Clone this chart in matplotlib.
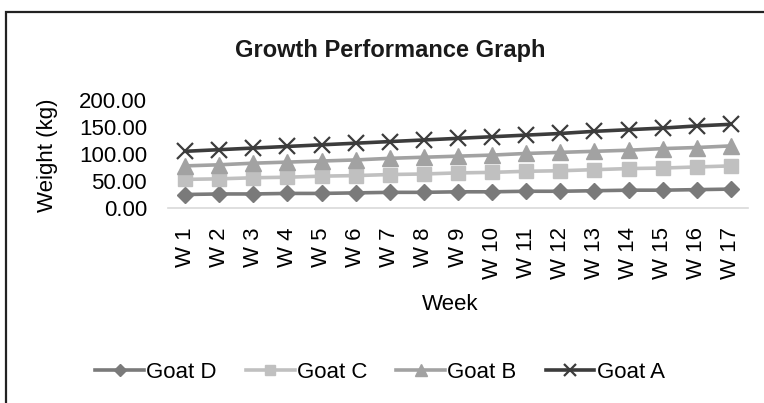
import matplotlib.pyplot as plt
from matplotlib.patches import Rectangle

plt.rcParams['font.family'] = ['Liberation Sans', 'DejaVu Sans']

# Data (weight in kg per week)
weeks = ['W 1', 'W 2', 'W 3', 'W 4', 'W 5', 'W 6', 'W 7', 'W 8', 'W 9',
         'W 10', 'W 11', 'W 12', 'W 13', 'W 14', 'W 15', 'W 16', 'W 17']
goat_a = [105, 108, 111, 114, 117, 120, 123, 126, 129, 132, 135, 138, 142, 145, 148, 152, 155]
goat_b = [78, 80, 83, 85, 87, 89, 92, 94, 96, 98, 101, 103, 105, 107, 110, 112, 115]
goat_c = [53, 54, 56, 57, 59, 60, 62, 63, 65, 66, 68, 69, 71, 73, 74, 76, 78]
goat_d = [25, 26, 26, 27, 27, 28, 29, 29, 30, 30, 31, 31, 32, 33, 33, 34, 35]
y_ticks = [0, 50, 100, 150, 200]

W, H = 764, 403
fig = plt.figure(figsize=(W / 100, H / 100), dpi=100)
ax = fig.add_axes([168 / W, 1 - 208 / H, 580 / W, 108 / H])

x = range(len(weeks))
# Excel-like series styling, plotted D first so the legend reads D, C, B, A
ax.plot(x, goat_d, color='#7a7a7a', lw=2.6, marker='D', ms=8, label='Goat D')
ax.plot(x, goat_c, color='#c0c0c0', lw=2.6, marker='s', ms=10, label='Goat C')
ax.plot(x, goat_b, color='#a2a2a2', lw=2.6, marker='^', ms=11, label='Goat B')
ax.plot(x, goat_a, color='#3c3c3c', lw=2.6, marker='x', ms=11, mew=1.6, label='Goat A')

ax.set_xlim(-0.5, len(weeks) - 0.5)
ax.set_ylim(0, 200)
ax.set_xticks(list(x))
ax.set_xticklabels(weeks, rotation=90, fontsize=16)
ax.set_yticks(y_ticks)
ax.set_yticklabels(['%.2f' % v for v in y_ticks], fontsize=16)
ax.tick_params(axis='both', length=0)
ax.tick_params(axis='x', pad=14)
ax.tick_params(axis='y', pad=15)

for s in ['top', 'right', 'left']:
    ax.spines[s].set_visible(False)
ax.spines['bottom'].set_color('#d9d9d9')
ax.spines['bottom'].set_linewidth(1.2)

fig.text(390 / W, 1 - 50 / H, 'Growth Performance Graph', fontsize=17,
         fontweight='bold', ha='center', va='center', color='#1a1a1a')
fig.text(450 / W, 1 - 305 / H, 'Week', fontsize=16, ha='center', va='center')
fig.text(48 / W, 1 - 155 / H, 'Weight (kg)', fontsize=16, rotation=90,
         ha='center', va='center')

fig.legend(loc='center', bbox_to_anchor=(380 / W, 1 - 372 / H), ncol=4,
           frameon=False, fontsize=16, handlelength=2.2, handletextpad=0.1,
           columnspacing=1.3, markerscale=0.75)

# chart border (only left and top edges fall inside the image)
fig.patches.append(Rectangle((6 / W, -0.1), 1.2, 1.1 - 12 / H, transform=fig.transFigure,
                             fill=False, lw=1.6, edgecolor='#222222'))

fig.savefig('out.png', dpi=100)
